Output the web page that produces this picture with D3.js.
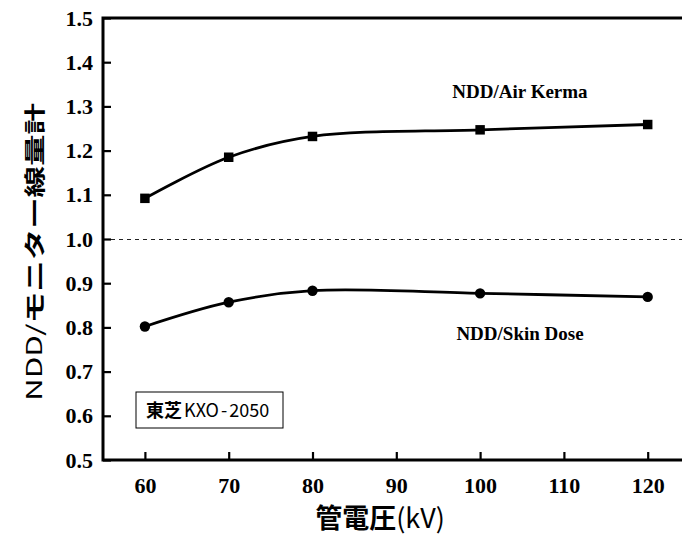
<!DOCTYPE html>
<html>
<head>
<meta charset="utf-8">
<script src="https://cdn.jsdelivr.net/npm/d3@7"></script>
<style>
  body { margin: 0; background: #fff; }
  svg { display: block; }
</style>
</head>
<body>
<svg id="chart" width="682" height="540"></svg>
<script>
// tube voltage (kV)
var kv = [60, 70, 80, 100, 120];
// NDD / monitor dosimeter ratios
var airKerma = [1.092, 1.185, 1.232, 1.247, 1.259];
var skinDose = [0.802, 0.857, 0.883, 0.877, 0.869];

var xTicks = [60, 70, 80, 90, 100, 110, 120];
var yTicks = [0.5, 0.6, 0.7, 0.8, 0.9, 1.0, 1.1, 1.2, 1.3, 1.4, 1.5];

var svg = d3.select("#chart");

var mLeft = 103, mTop = 18, mBottom = 460;

var x = d3.scaleLinear().domain([55, 125]).range([mLeft, mLeft + 70 * 8.38]);
var y = d3.scaleLinear().domain([0.5, 1.5]).range([mBottom, mTop]);

var serif = "'Liberation Serif', 'Times New Roman', serif";
var cjk = "'Noto Sans CJK JP', 'Noto Sans', sans-serif";

/*
	reference line at 1.0
*/
svg.append("line")
	.attr("x1", x(55)).attr("x2", x(125))
	.attr("y1", y(1.0) + 0.5).attr("y2", y(1.0) + 0.5)
	.attr("stroke", "#222")
	.attr("stroke-width", 1)
	.attr("stroke-dasharray", "4,4");

/*
	axes, ticks point inward
*/
var minorX = d3.range(55, 126, 5);
var minorY = d3.range(0, 21).map(function(i) { return 0.5 + i * 0.05; });

var gx = svg.append("g").attr("transform", "translate(0," + mBottom + ")");
gx.call(d3.axisBottom(x).tickValues(minorX).tickSize(-4).tickFormat(""));
gx.call(d3.axisBottom(x).tickValues(xTicks).tickSize(-8).tickPadding(17).tickFormat(d3.format("d")));

var gy = svg.append("g").attr("transform", "translate(" + mLeft + ",0)");
gy.call(d3.axisLeft(y).tickValues(minorY).tickSize(-4).tickFormat(""));
gy.call(d3.axisLeft(y).tickValues(yTicks).tickSize(-8).tickPadding(10).tickFormat(d3.format(".1f")));

svg.selectAll(".domain").remove();
svg.selectAll(".tick line").attr("stroke", "#000").attr("stroke-width", 2.2);
svg.selectAll(".tick text")
	.attr("fill", "#000")
	.style("font-family", serif)
	.style("font-weight", "bold")
	.style("font-size", "22px");

// frame
svg.append("path")
	.attr("d", "M" + x(125) + "," + mTop + "H" + mLeft + "V" + mBottom + "H" + x(125))
	.attr("fill", "none")
	.attr("stroke", "#000")
	.attr("stroke-width", 3);

/*
	series
*/
var line = d3.line()
	.x(function(d) { return x(d[0]); })
	.y(function(d) { return y(d[1]); })
	.curve(d3.curveCatmullRom.alpha(0.5));

function series(vals, shape) {
	var pts = kv.map(function(k, i) { return [k, vals[i]]; });
	svg.append("path")
		.datum(pts)
		.attr("d", line)
		.attr("fill", "none")
		.attr("stroke", "#000")
		.attr("stroke-width", 2.8);
	svg.append("g").selectAll("path")
		.data(pts)
		.enter()
		.append("path")
		.attr("transform", function(d) { return "translate(" + x(d[0]) + "," + y(d[1]) + ")"; })
		.attr("d", d3.symbol().type(shape).size(shape === d3.symbolSquare ? 90 : 85))
		.attr("fill", "#000");
}
series(airKerma, d3.symbolSquare);
series(skinDose, d3.symbolCircle);

svg.append("text")
	.attr("x", 520).attr("y", 98)
	.attr("text-anchor", "middle")
	.style("font-family", serif).style("font-weight", "bold").style("font-size", "19px")
	.text("NDD/Air Kerma");

svg.append("text")
	.attr("x", 520).attr("y", 340)
	.attr("text-anchor", "middle")
	.style("font-family", serif).style("font-weight", "bold").style("font-size", "19px")
	.text("NDD/Skin Dose");

/*
	model box
*/
svg.append("rect")
	.attr("x", 136).attr("y", 392)
	.attr("width", 147).attr("height", 36)
	.attr("fill", "#fff")
	.attr("stroke", "#000")
	.attr("stroke-width", 1);

var box = svg.append("text")
	.attr("x", 146).attr("y", 417)
	.style("font-family", cjk).style("font-size", "18px");
box.append("tspan").style("font-weight", "bold").text("東芝");
box.append("tspan").attr("dx", 2).text("KXO");
box.append("tspan").attr("dx", 2).text("-");
box.append("tspan").attr("dx", 2).text("2050");

/*
	axis titles
*/
var xt = svg.append("text")
	.attr("x", 380).attr("y", 528)
	.attr("text-anchor", "middle")
	.style("font-family", cjk).style("font-size", "27px");
xt.append("tspan").style("font-weight", "bold").text("管電圧");
xt.append("tspan").text("(kV)");

var yt = svg.append("text")
	.attr("transform", "translate(42,252) rotate(-90) scale(1.5,1)")
	.attr("text-anchor", "middle")
	.style("font-family", cjk).style("font-size", "21px");
yt.append("tspan").text("NDD/");
yt.append("tspan").style("font-weight", "bold").text("モニター線量計");
</script>
</body>
</html>
